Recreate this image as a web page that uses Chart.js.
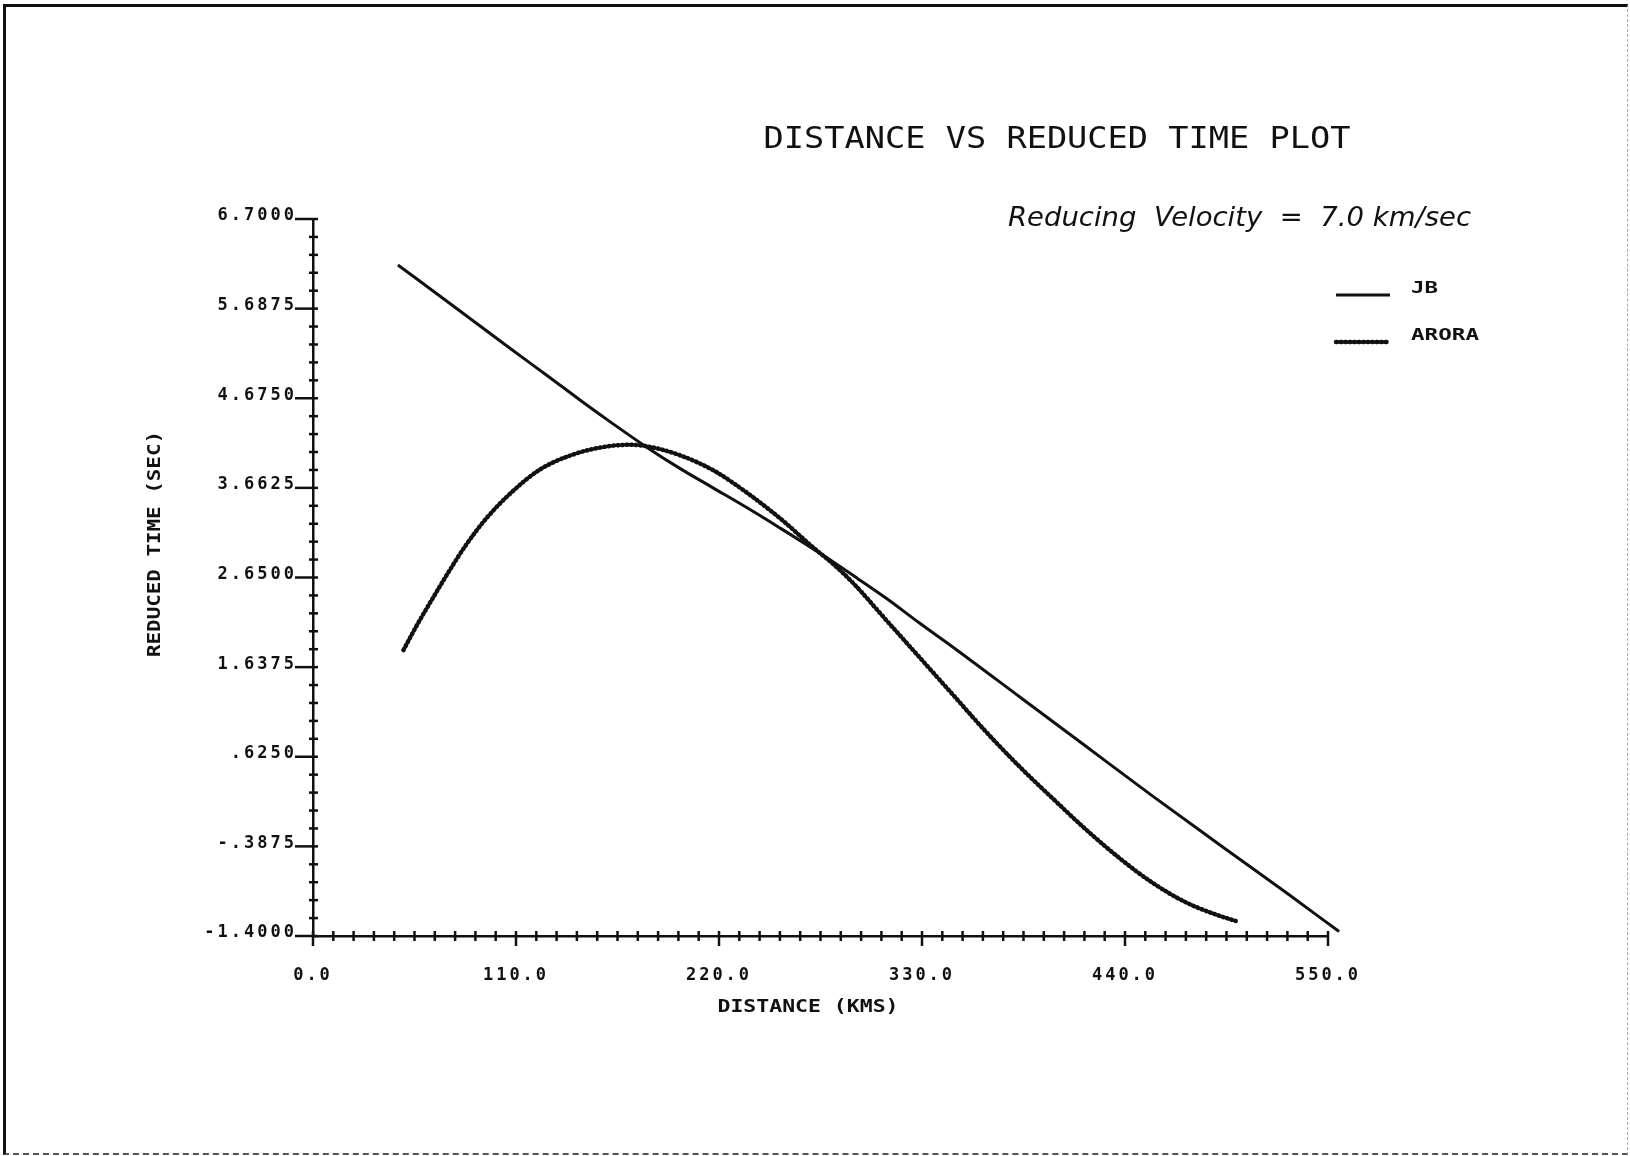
<!DOCTYPE html>
<html>
<head>
<meta charset="utf-8">
<title>Distance vs Reduced Time Plot</title>
<script src="https://cdn.jsdelivr.net/npm/chart.js@4.4.1/dist/chart.umd.min.js"></script>
<style>
  html, body { margin: 0; padding: 0; background: #fff; overflow: hidden; }
  #wrap { position: relative; width: 1630px; height: 1156px; }
  /* scanned-page frame round the plot */
  #frame {
    position: absolute; left: 3px; top: 4px; right: 2px; bottom: 1px;
    border-left: 3px solid #111; border-top: 3px solid #111;
    border-bottom: 2px dashed #555; border-right: 1px dashed #aaa;
    pointer-events: none;
  }
</style>
</head>
<body>
<div id="wrap">
  <canvas id="plot" width="1630" height="1156"></canvas>
  <div id="frame"></div>
</div>
<script>
/* ── Data ───────────────────────────────────────────────────── */
/* JB travel-time curve: distance (km) and reduced time (sec) */
const jbDistance = [46, 72, 90, 108, 127, 145, 163, 181, 199, 217, 235, 253,
                    275, 295, 311, 329, 347, 383, 419, 455, 492, 528, 556];
const jbTime     = [6.18, 5.78, 5.50, 5.22, 4.93, 4.65, 4.38, 4.12, 3.88, 3.66, 3.44, 3.21,
                    2.92, 2.64, 2.41, 2.13, 1.86, 1.30, 0.74, 0.18, -0.38, -0.92, -1.35];

/* ARORA travel-time curve */
const aroraDistance = [49, 56, 65, 74, 83, 94, 108, 123, 141, 159, 172, 184, 199, 217, 235,
                       253, 271, 282, 293, 311, 329, 347, 365, 383, 401, 419, 437, 455, 473, 491, 500];
const aroraTime     = [1.83, 2.10, 2.42, 2.73, 3.02, 3.32, 3.62, 3.87, 4.04, 4.13, 4.15, 4.12, 4.03, 3.86, 3.61,
                       3.32, 2.99, 2.80, 2.58, 2.16, 1.74, 1.32, 0.90, 0.51, 0.15, -0.20, -0.52, -0.80, -1.02, -1.17, -1.23];

const seriesNames = ["JB", "ARORA"];

/* Axis ranges and tick labels (labels every 5th / 10th minor tick) */
const xMin = 0, xMax = 550, xStep = 11;
const xTickLabels = ["0.0", "110.0", "220.0", "330.0", "440.0", "550.0"];
const yMin = -1.4, yMax = 6.7, yStep = 0.2025;
const yTickLabels = ["-1.4000", "-.3875", ".6250", "1.6375", "2.6500",
                     "3.6625", "4.6750", "5.6875", "6.7000"];

const titleText    = "DISTANCE VS REDUCED TIME PLOT";
const subtitleText = "Reducing  Velocity  =  7.0 km/sec";
const xTitleText   = "DISTANCE (KMS)";
const yTitleText   = "REDUCED TIME (SEC)";

/* ── Helpers ────────────────────────────────────────────────── */
const INK = "#111";
const MONO = '"DejaVu Sans Mono", monospace';

function toPoints(xs, ys) {
  return xs.map((x, i) => ({ x, y: ys[i] }));
}

/* Draw text squeezed/stretched to a given width */
function fitText(ctx, text, cx, cy, width, align, rotate) {
  const w = ctx.measureText(text).width;
  ctx.save();
  ctx.translate(cx, cy);
  if (rotate) ctx.rotate(rotate);
  ctx.scale(width / w, 1);
  ctx.textAlign = align;
  ctx.textBaseline = "middle";
  ctx.fillText(text, 0, 0);
  ctx.restore();
}

/* ── Plugins: tick marks, titles, legend ────────────────────── */
const plotDecor = {
  id: "plotDecor",
  beforeDraw(chart) {
    chart.ctx.letterSpacing = "3px";
  },
  afterDraw(chart) {
    const { ctx, scales: { x, y } } = chart;
    ctx.save();
    ctx.letterSpacing = "0px";
    ctx.strokeStyle = INK;
    ctx.fillStyle = INK;
    ctx.lineWidth = 2.5;

    /* x ticks: minor cross the axis, major hang lower */
    x.ticks.forEach((t, i) => {
      const px = x.getPixelForValue(t.value);
      const major = i % 10 === 0;
      ctx.beginPath();
      ctx.moveTo(px, x.top - 5);
      ctx.lineTo(px, x.top + (major ? 10 : 5));
      ctx.stroke();
    });

    /* y ticks: major run out to the label */
    y.ticks.forEach((t, i) => {
      const py = y.getPixelForValue(t.value);
      const major = i % 5 === 0;
      ctx.beginPath();
      ctx.moveTo(y.right - (major ? 18 : 4), py);
      ctx.lineTo(y.right + 5, py);
      ctx.stroke();
    });

    /* titles */
    ctx.font = "30px " + MONO;
    fitText(ctx, titleText, 1057, 140, 587, "center");
    ctx.font = 'italic 27px "DejaVu Sans"';
    fitText(ctx, subtitleText, 1008, 219, 463, "left");
    ctx.font = "bold 17px " + MONO;
    fitText(ctx, xTitleText, 808, 1008, 181, "center");
    fitText(ctx, yTitleText, 156, 544, 226, "center", -Math.PI / 2);

    /* legend */
    const legendRows = [295, 342];
    chart.data.datasets.forEach((ds, i) => {
      const ly = legendRows[i];
      ctx.save();
      ctx.lineWidth = ds.borderWidth;
      ctx.lineCap = ds.borderCapStyle || "butt";
      ctx.setLineDash(ds.borderDash || []);
      ctx.beginPath();
      ctx.moveTo(1336, ly);
      ctx.lineTo(1390, ly);
      ctx.stroke();
      ctx.restore();
      ctx.font = "bold 16px " + MONO;
      fitText(ctx, ds.label, 1411, ly - 6, i === 0 ? 27 : 68, "left");
    });
    ctx.restore();
  }
};

/* ── Chart ──────────────────────────────────────────────────── */
const tickFont = { family: MONO, weight: "bold", size: 17 };

new Chart(document.getElementById("plot"), {
  type: "line",
  data: {
    datasets: [
      {
        label: seriesNames[0],
        data: toPoints(jbDistance, jbTime),
        borderColor: INK,
        borderWidth: 3,
        pointRadius: 0,
        cubicInterpolationMode: "monotone",
        clip: false,
      },
      {
        label: seriesNames[1],
        data: toPoints(aroraDistance, aroraTime),
        borderColor: INK,
        borderWidth: 4.5,
        borderDash: [1, 3.5],
        borderCapStyle: "round",
        pointRadius: 0,
        cubicInterpolationMode: "monotone",
        clip: false,
      },
    ],
  },
  options: {
    responsive: false,
    animation: false,
    events: [],
    layout: { padding: { top: 219, right: 302, bottom: 0, left: 0 } },
    plugins: {
      legend: { display: false },
      title: { display: false },
      tooltip: { enabled: false },
    },
    scales: {
      x: {
        type: "linear",
        min: xMin,
        max: xMax,
        afterBuildTicks(s) {
          s.ticks = [];
          for (let i = 0; i <= (xMax - xMin) / xStep; i++) s.ticks.push({ value: xMin + i * xStep });
        },
        afterFit(s) { s.height = 220; },
        border: { display: true, color: INK, width: 2.5 },
        grid: { display: true, drawOnChartArea: false, drawTicks: false },
        ticks: {
          autoSkip: false,
          maxRotation: 0,
          padding: 29,
          color: INK,
          font: tickFont,
          callback: (v, i) => (i % 10 === 0 ? xTickLabels[i / 10] : ""),
        },
      },
      y: {
        type: "linear",
        min: yMin,
        max: yMax,
        afterBuildTicks(s) {
          s.ticks = [];
          for (let i = 0; i <= Math.round((yMax - yMin) / yStep); i++) s.ticks.push({ value: yMin + i * yStep });
        },
        afterFit(s) { s.width = 313; },
        border: { display: true, color: INK, width: 2.5 },
        grid: { display: true, drawOnChartArea: false, drawTicks: false },
        ticks: {
          autoSkip: false,
          padding: 16,
          labelOffset: -3,
          color: INK,
          font: tickFont,
          callback: (v, i) => (i % 5 === 0 ? yTickLabels[i / 5] : ""),
        },
      },
    },
  },
  plugins: [plotDecor],
});
</script>
</body>
</html>
